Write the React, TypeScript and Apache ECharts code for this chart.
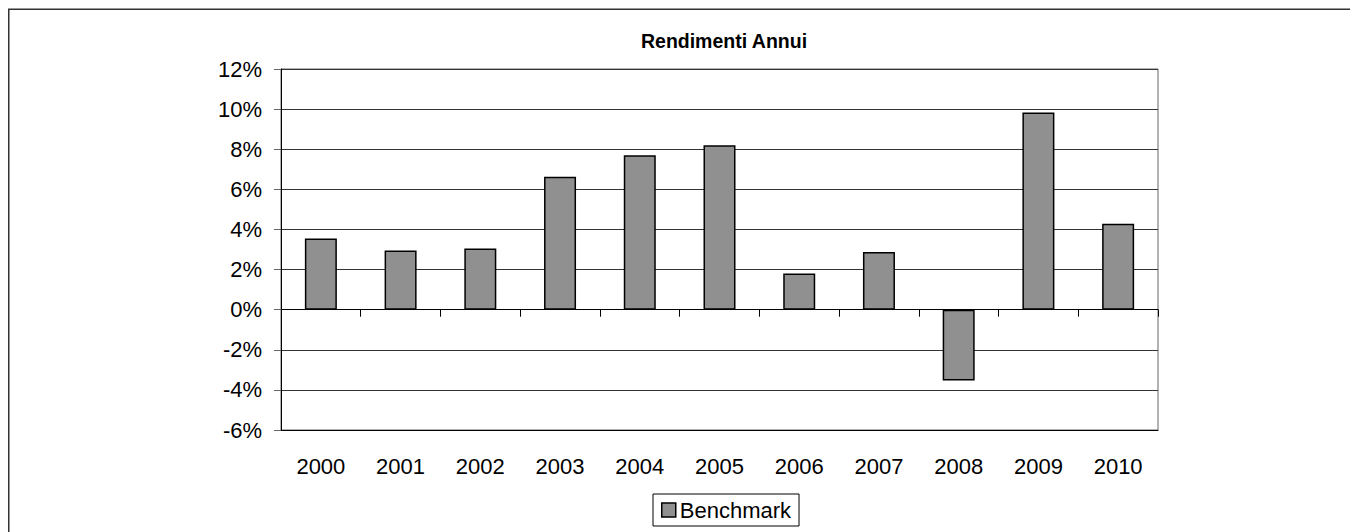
import React, { useEffect, useRef } from "react";
import * as echarts from "echarts";

const years = ["2000", "2001", "2002", "2003", "2004", "2005", "2006", "2007", "2008", "2009", "2010"];
const benchmark = [3.55, 2.95, 3.05, 6.63, 7.7, 8.2, 1.8, 2.88, -3.53, 9.83, 4.28];
const chartTitle = "Rendimenti Annui";
const seriesName = "Benchmark";

const FONT = 'Arial, "Liberation Sans", sans-serif';

export default function App() {
  const ref = useRef<HTMLDivElement>(null);
  useEffect(() => {
    if (!ref.current) return;
    const chart = echarts.init(ref.current, undefined, { renderer: "svg" });
    chart.setOption({
      animation: false,
      backgroundColor: "#fff",
      textStyle: { fontFamily: FONT, color: "#000" },
      title: {
        text: chartTitle,
        left: 711,
        top: 18,
        textAlign: "center",
        textStyle: { fontFamily: FONT, fontSize: 19.5, fontWeight: "bold", color: "#000" },
      },
      graphic: [
        {
          type: "polyline",
          shape: { points: [[0.75, 530], [0.75, 1.25], [1400, 1.25]] },
          style: { fill: "none", stroke: "#333", lineWidth: 1.5 },
          silent: true,
        },
      ],
      legend: {
        left: 645,
        top: 486,
        data: [seriesName],
        icon: "rect",
        itemWidth: 14,
        itemHeight: 14,
        itemGap: 5,
        padding: [5, 8],
        borderColor: "#000",
        borderWidth: 1,
        textStyle: { fontFamily: FONT, fontSize: 22, color: "#000", padding: [0, 0, 0, -1] },
        itemStyle: { borderColor: "#000", borderWidth: 1.5 },
      },
      grid: {
        left: 273,
        top: 61,
        width: 877,
        height: 361,
        show: true,
        borderColor: "#666",
        borderWidth: 1,
      },
      xAxis: [
        {
          type: "category",
          data: years,
          position: "bottom",
          axisLine: { onZero: true, lineStyle: { color: "#000", width: 1 } },
          axisTick: { show: true, inside: false, length: 7, lineStyle: { color: "#000" } },
          axisLabel: { show: false },
          splitLine: { show: false },
        },
        {
          type: "category",
          data: years,
          position: "bottom",
          axisLine: { show: true, onZero: false, lineStyle: { color: "#000", width: 1 } },
          axisTick: { show: false },
          axisLabel: { show: true, fontFamily: FONT, fontSize: 22, color: "#000", margin: 25 },
          splitLine: { show: false },
        },
      ],
      yAxis: {
        type: "value",
        min: -6,
        max: 12,
        interval: 2,
        axisLine: { show: true, lineStyle: { color: "#000", width: 1 } },
        axisTick: { show: true, length: 7, lineStyle: { color: "#666" } },
        axisLabel: {
          fontFamily: FONT,
          fontSize: 22,
          color: "#000",
          margin: 19,
          formatter: (v: number) => `${v}%`,
        },
        splitLine: { show: true, lineStyle: { color: "#333", width: 1 } },
      },
      series: [
        {
          name: seriesName,
          type: "bar",
          xAxisIndex: 0,
          data: benchmark,
          barWidth: 32,
          itemStyle: { color: "#909090", borderColor: "#000", borderWidth: 1.5 },
        },
      ],
    });
    return () => chart.dispose();
  }, []);
  return <div ref={ref} style={{ width: 1350, height: 524 }} />;
}
